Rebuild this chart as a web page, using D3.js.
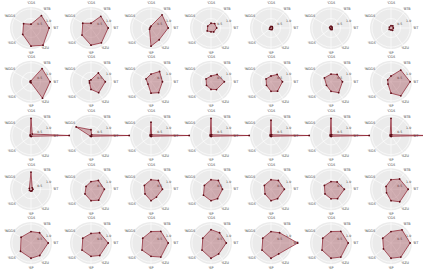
<!DOCTYPE html>
<html><head><meta charset="utf-8">
<script src="https://cdn.jsdelivr.net/npm/d3@7"></script>
<style>body{margin:0;background:#fff}svg{display:block}</style>
</head><body>
<script>
const categories = ["'CGS","'BTB","'BT","'SZU","'SP","'SGS","'NGGS"];
const angleDeg = [0, 40, 90, 145, 180, 232, 300];
const rTicks = [0.5, 1.0];
const rTickLabels = ["0.5", "1.0"];
// values per panel, row by row
const row0 = [
  [0.2,0.85,0.95,1.1,0.95,0.55,0.45],
  [0.25,0.8,0.9,0.95,0.9,0.6,0.5],
  [0.1,0.9,0.9,0.75,0.95,0.1,0.05],
  [0.25,0.3,0.3,0.25,0.2,0.25,0.2],
  [0.08,0.1,0.08,0.1,0.08,0.1,0.06],
  [0.1,0.08,0.06,0.1,0.08,0.06,0.08],
  [0.12,0.15,0.12,0.15,0.1,0.12,0.1]
];
const row1 = [
  [0.05,0.9,1.0,1.05,0.05,0.05,0.05],
  [0.1,0.6,0.75,0.7,0.4,0.1,0.1],
  [0.4,0.7,0.6,0.7,0.6,0.2,0.3],
  [0.3,0.5,0.7,0.5,0.4,0.3,0.3],
  [0.3,0.5,0.6,0.6,0.5,0.3,0.3],
  [0.4,0.5,0.6,0.7,0.5,0.3,0.4],
  [0.3,0.8,1.0,0.9,0.6,0.2,0.2]
];
const row2 = [
  [0.9,0.1,2.0,0.05,0.05,0.05,0.05],
  [0.3,0.05,2.0,0.05,0.05,0.05,0.9],
  [0.7,0.05,2.0,0.05,0.05,0.05,0.05],
  [0.9,0.05,2.0,0.05,0.05,0.05,0.05],
  [0.8,0.05,2.0,0.05,0.05,0.05,0.05],
  [0.9,0.05,2.0,0.05,0.05,0.05,0.05],
  [0.9,0.05,2.0,0.05,0.05,0.05,0.05]
];
const row3 = [
  [0.9,0.1,0.1,0.1,0.1,0.1,0.1],
  [0.4,0.6,0.7,0.7,0.6,0.4,0.3],
  [0.5,0.6,0.6,0.5,0.6,0.4,0.4],
  [0.5,0.6,0.6,0.6,0.6,0.5,0.4],
  [0.5,0.6,0.7,0.6,0.6,0.4,0.4],
  [0.4,0.5,0.7,0.6,0.5,0.4,0.4],
  [0.5,0.7,0.9,0.8,0.6,0.3,0.3]
];
const row4 = [
  [0.6,0.7,0.9,0.8,0.8,0.7,0.6],
  [0.5,0.7,0.9,0.8,0.7,0.6,0.5],
  [0.6,0.8,0.9,0.9,0.7,0.6,0.5],
  [0.7,0.7,0.8,0.7,0.8,0.6,0.5],
  [0.6,0.7,1.4,0.7,0.8,0.6,0.5],
  [0.6,0.8,0.9,0.9,0.8,0.6,0.5],
  [0.6,0.9,1.0,0.9,0.8,0.5,0.5]
];
const panels = [row0,row1,row2,row3,row4];

const W = 423, H = 271;
const svg = d3.select("body").append("svg").attr("width", W).attr("height", H);

const cols = d3.range(7), rows = d3.range(5);
const xCell = d3.scaleLinear().domain([0,6]).range([31, 391]);
const yCell = d3.scaleLinear().domain([0,4]).range([28, 243]);
const rScale = d3.scaleLinear().domain([0, 1.1]).range([0, 21]);
const angle = d3.scaleOrdinal().domain(categories).range(angleDeg.map(a => a*Math.PI/180));
const radial = d3.lineRadial().angle((d,i) => angle(categories[i])).radius(d => rScale(d)).curve(d3.curveLinearClosed);

rows.forEach(r => cols.forEach(c => {
  const g = svg.append("g").attr("transform", `translate(${xCell(c)},${yCell(r)})`);
  const vals = panels[r][c];
  g.append("circle").attr("r", rScale(1.1)).attr("fill", "#ebebeb");
  rTicks.forEach(t => g.append("circle").attr("r", rScale(t)).attr("fill","none").attr("stroke","#fff").attr("stroke-width",0.6));
  categories.forEach(cat => {
    const a = angle(cat);
    g.append("line").attr("x1",0).attr("y1",0)
      .attr("x2", rScale(1.1)*Math.sin(a)).attr("y2", -rScale(1.1)*Math.cos(a))
      .attr("stroke","#fff").attr("stroke-width",0.6);
    const lr = rScale(1.1) + 3.6;
    g.append("text").attr("x", lr*Math.sin(a)).attr("y", -lr*Math.cos(a))
      .attr("text-anchor","middle").attr("dominant-baseline","central")
      .attr("font-family","DejaVu Sans").attr("font-size",3.4).attr("fill","#444").text(cat);
  });
  const la = 67.5*Math.PI/180;
  rTicks.forEach((t,i) => g.append("text").attr("x", rScale(t)*Math.sin(la)).attr("y", -rScale(t)*Math.cos(la))
      .attr("text-anchor","middle").attr("dominant-baseline","central")
      .attr("font-family","DejaVu Sans").attr("font-size",3.2).attr("fill","#444").text(rTickLabels[i]));
  g.append("path").attr("d", radial(vals)).attr("fill","rgba(140,30,45,0.32)")
    .attr("stroke","#8b1a2a").attr("stroke-width",0.7);
  g.selectAll("circle.pt").data(vals).enter().append("circle").attr("class","pt")
    .attr("cx",(d,i)=>rScale(d)*Math.sin(angle(categories[i])))
    .attr("cy",(d,i)=>-rScale(d)*Math.cos(angle(categories[i])))
    .attr("r",0.9).attr("fill","#5a0a14");
}));
</script>
</body></html>
